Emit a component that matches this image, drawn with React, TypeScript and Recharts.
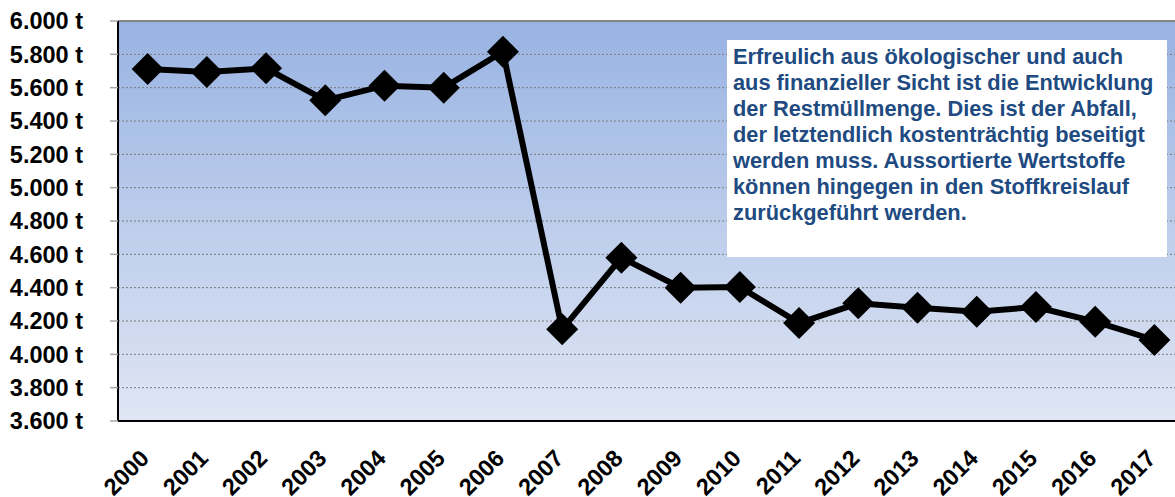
import React from 'react';
import { LineChart, Line, XAxis, YAxis, CartesianGrid, ReferenceLine } from 'recharts';

const years = [
  '2000', '2001', '2002', '2003', '2004', '2005', '2006', '2007', '2008',
  '2009', '2010', '2011', '2012', '2013', '2014', '2015', '2016', '2017',
];

// Restmüll in Tonnen
const restmuell = [
  5712, 5694, 5716, 5524, 5612, 5600, 5816, 4150, 4580,
  4400, 4404, 4188, 4306, 4280, 4256, 4284, 4196, 4086,
];

const yTicks = [3600, 3800, 4000, 4200, 4400, 4600, 4800, 5000, 5200, 5400, 5600, 5800, 6000];

// category boundaries for the small tick marks under the x axis
const bandEdges = years.map((_, i) => i).concat(years.length);

const noteLines = [
  'Erfreulich aus ökologischer und auch',
  'aus finanzieller Sicht ist die Entwicklung',
  'der Restmüllmenge. Dies ist der Abfall,',
  'der letztendlich kostenträchtig beseitigt',
  'werden muss. Aussortierte Wertstoffe',
  'können hingegen in den Stoffkreislauf',
  'zurückgeführt werden.',
];

const data = years.map((year, i) => ({ year, value: restmuell[i] }));

const FONT = '"Liberation Sans", Arial, Helvetica, sans-serif';
const PLOT_LEFT = 118;
const PLOT_W = 1066;
const BAND = PLOT_W / years.length;

const fmtTons = (v: number) =>
  `${Math.floor(v / 1000)}.${String(v % 1000).padStart(3, '0')} t`;

const Diamond = (props: any) => {
  const { cx, cy } = props;
  if (cx == null || cy == null) return null;
  const r = 16;
  return (
    <polygon
      points={`${cx - r},${cy} ${cx},${cy - r} ${cx + r},${cy} ${cx},${cy + r}`}
      fill="#000"
    />
  );
};

export default function App() {
  return (
    <div
      style={{
        position: 'absolute',
        left: 0,
        top: 0,
        width: 1175,
        height: 497,
        overflow: 'hidden',
        background: '#fff',
      }}
    >
      <LineChart
        width={PLOT_LEFT + PLOT_W + 6}
        height={497}
        data={data}
        margin={{ top: 21, right: 6, bottom: 0, left: 0 }}
      >
        <defs>
          <linearGradient id="plotBg" x1="0" y1="0" x2="0" y2="1">
            <stop offset="0%" stopColor="#98b3e2" />
            <stop offset="100%" stopColor="#e0e6f4" />
          </linearGradient>
        </defs>
        <CartesianGrid
          vertical={false}
          fill="url(#plotBg)"
          fillOpacity={1}
          stroke="#7a7a7a"
          strokeDasharray="2 2"
        />
        <ReferenceLine y={6000} stroke="#858585" strokeWidth={2} />
        <XAxis
          xAxisId="edges"
          type="number"
          domain={[0, years.length]}
          ticks={bandEdges}
          interval={0}
          height={0}
          tick={false}
          axisLine={false}
          tickSize={8}
          tickLine={{ stroke: '#a6a6a6', strokeWidth: 1.5 }}
        />
        <XAxis
          dataKey="year"
          height={76}
          interval={0}
          padding={{ left: BAND / 2, right: BAND / 2 }}
          tickLine={false}
          tickSize={0}
          tickMargin={27}
          angle={-45}
          axisLine={{ stroke: '#000', strokeWidth: 2 }}
          tick={{
            fontFamily: FONT,
            fontSize: 23.5,
            fontWeight: 700,
            fill: '#000',
            textAnchor: 'end',
            dx: -9,
          }}
        />
        <YAxis
          width={PLOT_LEFT}
          domain={[3600, 6000]}
          ticks={yTicks}
          interval={0}
          tickFormatter={fmtTons}
          tickSize={8}
          tickMargin={27}
          tickLine={{ stroke: '#a6a6a6', strokeWidth: 1.5 }}
          axisLine={{ stroke: '#000', strokeWidth: 2 }}
          tick={{ fontFamily: FONT, fontSize: 23.5, fontWeight: 700, fill: '#000' }}
        />
        <Line
          type="linear"
          dataKey="value"
          stroke="#000"
          strokeWidth={6}
          dot={<Diamond />}
          activeDot={false}
          isAnimationActive={false}
        />
      </LineChart>
      <div
        style={{
          position: 'absolute',
          left: 727,
          top: 40,
          width: 440,
          height: 217,
          background: '#fff',
          boxSizing: 'border-box',
          padding: '4px 0 0 6px',
          fontFamily: FONT,
          fontSize: 21.8,
          fontWeight: 700,
          lineHeight: '26px',
          color: '#204a80',
          whiteSpace: 'nowrap',
        }}
      >
        {noteLines.map((line, i) => (
          <div key={i}>{line}</div>
        ))}
      </div>
    </div>
  );
}
